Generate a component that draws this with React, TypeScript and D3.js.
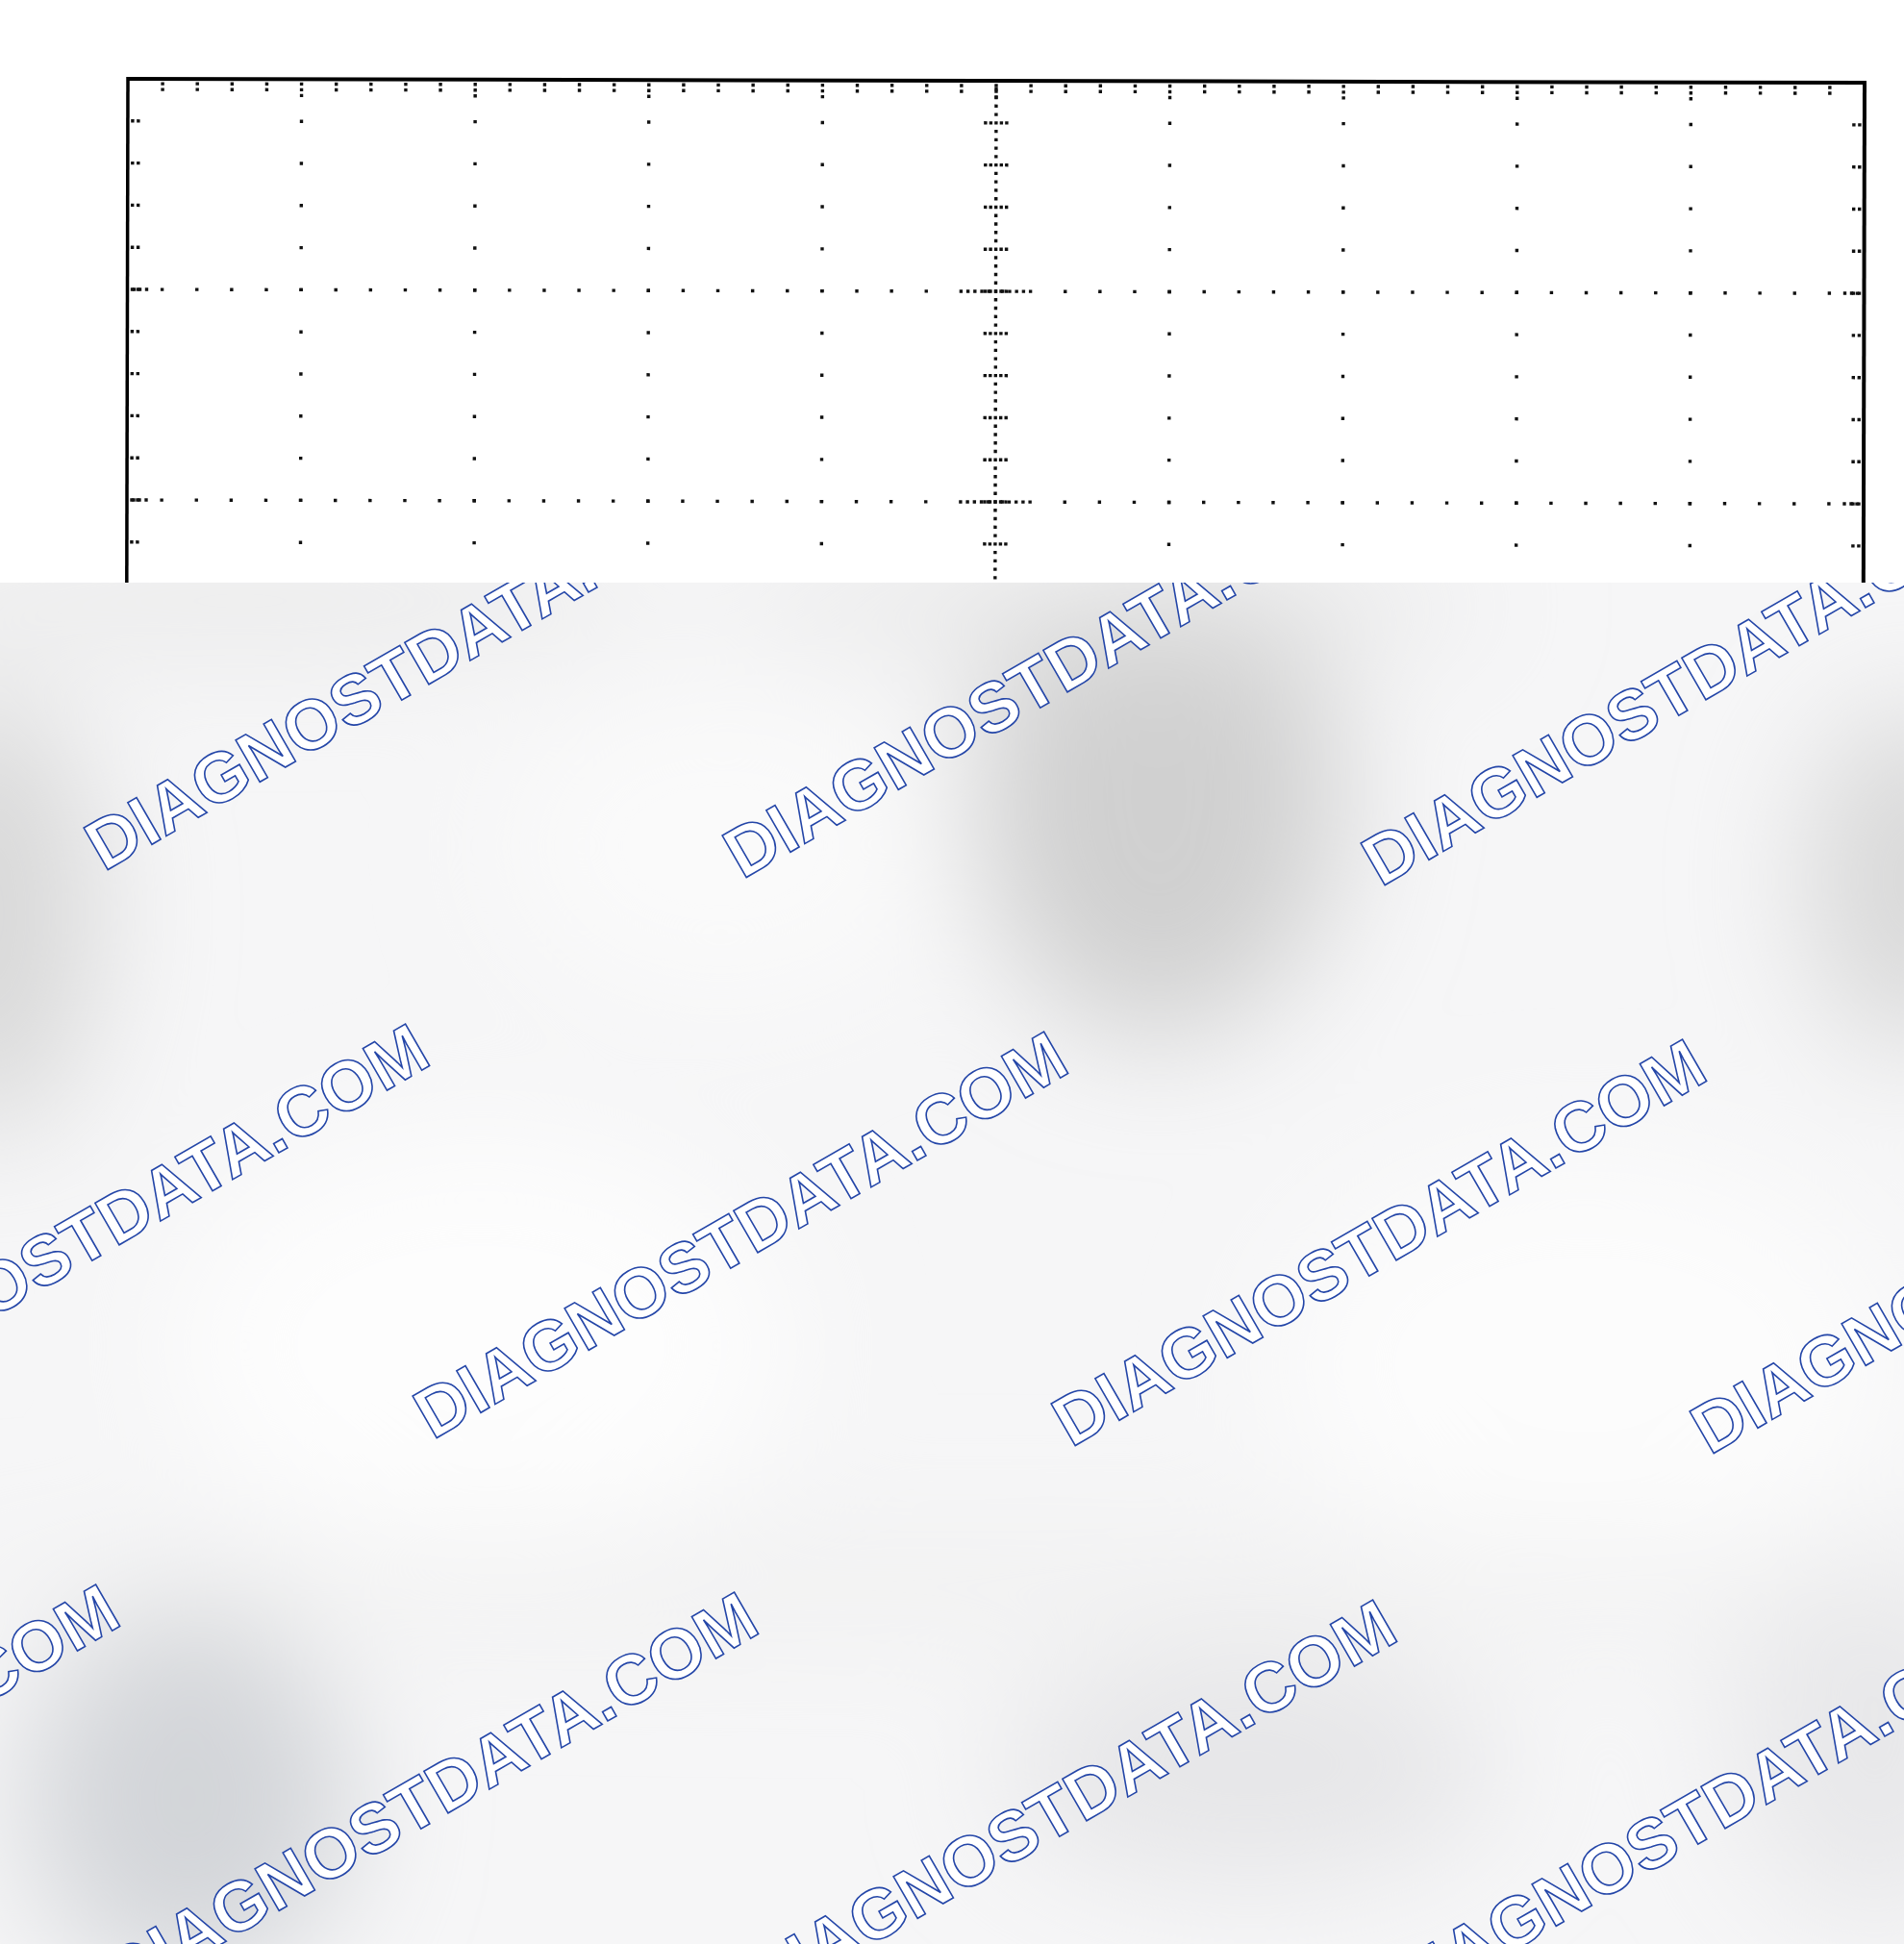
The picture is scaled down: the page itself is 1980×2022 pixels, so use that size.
import * as d3 from 'd3';

// screen grid: 10 x 8 divisions, 5 minor steps per division
const xDivisions = [0, 1, 2, 3, 4, 5, 6, 7, 8, 9, 10];
const yDivisions = [0, 1, 2, 3, 4, 5, 6, 7, 8];
const minorSteps = [0, 0.2, 0.4, 0.6, 0.8];
const fineSteps = [0, 0.04, 0.08, 0.12, 0.16];
const centerX = 5;
const centerY = 4;

// watermark lattice (column / row indices)
const markCols = [-2, -1, 0, 1, 2, 3];
const markRows = [-1, 0, 1, 2, 3];
const markText = 'DIAGNOSTDATA.COM';

const W = 1980;
const H = 2022;
const left = 133;
const right = 1939;
const top = 82;
const divH = 219;
const coverTop = 606;

const blobs = [
  { cx: 500, cy: 1400, rx: 320, ry: 220, c: '#fdfdfd' },
  { cx: 1650, cy: 1420, rx: 320, ry: 220, c: '#fcfcfc' },
  { cx: 750, cy: 880, rx: 220, ry: 160, c: '#fafafa' },
  { cx: -10, cy: 950, rx: 110, ry: 230, c: '#d8d8d8' },
  { cx: 1205, cy: 830, rx: 190, ry: 250, c: '#d0d0d0' },
  { cx: 1990, cy: 915, rx: 110, ry: 180, c: '#d8d8d8' },
  { cx: 195, cy: 1870, rx: 170, ry: 190, c: '#d3d5d9' },
  { cx: 1300, cy: 1840, rx: 260, ry: 120, c: '#e6e6e8' },
  { cx: 1950, cy: 1800, rx: 150, ry: 200, c: '#e8e8ea' },
  { cx: 250, cy: 625, rx: 450, ry: 45, c: '#e8e8e8' },
  { cx: 1150, cy: 630, rx: 400, ry: 40, c: '#e4e4e4' },
  { cx: 1000, cy: 1650, rx: 1100, ry: 45, c: '#f0f0f0' },
];

export default function App() {
  const x = d3.scaleLinear().domain([0, 10]).range([left, right]);
  const y = d3.scaleLinear().domain([0, 8]).range([top, top + 8 * divH]);

  const dots: [number, number][] = [];
  const addData = (dx: number, dy: number, ox = 0, oy = 0) => dots.push([x(dx) + ox, y(dy) + oy]);

  const yMinor: number[] = [];
  yDivisions.slice(0, -1).forEach((d) => minorSteps.forEach((s) => yMinor.push(d + s)));
  yMinor.push(8);
  const xMinor: number[] = [];
  xDivisions.slice(0, -1).forEach((d) => minorSteps.forEach((s) => xMinor.push(d + s)));
  xMinor.push(10);
  const yFine: number[] = [];
  yDivisions.slice(0, -1).forEach((d) => minorSteps.forEach((s) => fineSteps.forEach((f) => yFine.push(d + s + f))));
  const xFine: number[] = [];
  xDivisions.slice(0, -1).forEach((d) => minorSteps.forEach((s) => fineSteps.forEach((f) => xFine.push(d + s + f))));

  // dotted major verticals
  xDivisions.slice(1, -1).filter((d) => d !== centerX).forEach((d) => {
    yMinor.slice(1, -1).forEach((v) => addData(d, v));
  });
  // dotted major horizontals
  yDivisions.slice(1, -1).filter((d) => d !== centerY).forEach((d) => {
    xMinor.slice(1, -1).forEach((v) => addData(v, d));
    // denser near the centre line
    fineSteps.slice(1).forEach((f) => {
      addData(centerX - f, d);
      addData(centerX + f, d);
    });
    // denser near the borders
    [7, 13, 20].forEach((o) => {
      addData(0, d, o, 0);
      addData(10, d, -o, 0);
    });
  });
  // centre vertical with fine graduation and cross ticks
  yFine.slice(1).forEach((v) => addData(centerX, v));
  yMinor.slice(1, -1).forEach((v) => [-11, -5.5, 5.5, 11].forEach((o) => addData(centerX, v, o, 0)));
  // centre horizontal
  xFine.slice(1).forEach((v) => addData(v, centerY));
  xMinor.slice(1, -1).forEach((v) => [-11, -5.5, 5.5, 11].forEach((o) => addData(v, centerY, 0, o)));
  // border ticks
  xMinor.slice(1, -1).forEach((v) => {
    addData(v, 0, 0, 5);
    addData(v, 0, 0, 11);
  });
  xDivisions.slice(1, -1).forEach((v) => addData(v, 0, 0, 17));
  yMinor.slice(1, -1).forEach((v) => {
    addData(0, v, 5, 0);
    addData(0, v, 11, 0);
    addData(10, v, -5, 0);
    addData(10, v, -11, 0);
  });

  // watermark lattice
  const origin: [number, number] = [108, 907];
  const stepA: [number, number] = [664, 8];
  const stepB: [number, number] = [342, 591];
  const marks: [number, number][] = [];
  markRows.forEach((r) =>
    markCols.forEach((c) =>
      marks.push([origin[0] + c * stepA[0] + r * stepB[0], origin[1] + c * stepA[1] + r * stepB[1]])
    )
  );

  return (
    <svg width={W} height={H} style={{ position: 'absolute', left: 0, top: 0, background: '#fff' }}>
      <defs>
        <filter id="blur" x="-50%" y="-50%" width="200%" height="200%">
          <feGaussianBlur stdDeviation="65" />
        </filter>
        <clipPath id="cover">
          <rect x={0} y={coverTop} width={W} height={H - coverTop} />
        </clipPath>
      </defs>
      <rect width={W} height={H} fill="#fff" />
      <g transform={`rotate(0.13 ${left} ${top})`}>
        {dots.map(([px, py], i) => (
          <rect key={i} x={px - 1.7} y={py - 1.7} width={3.4} height={3.4} fill="#111" />
        ))}
        <line x1={x(0)} x2={x(10)} y1={y(0)} y2={y(0)} stroke="#000" strokeWidth={4} />
        <line x1={x(0)} x2={x(0)} y1={y(0) - 2} y2={y(8)} stroke="#000" strokeWidth={3.5} />
        <line x1={x(10)} x2={x(10)} y1={y(0) - 2} y2={y(8)} stroke="#000" strokeWidth={4} />
      </g>
      <g clipPath="url(#cover)">
        <rect x={0} y={coverTop} width={W} height={H - coverTop} fill="#f6f6f7" />
        <g filter="url(#blur)">
          {blobs.map((b, i) => (
            <ellipse key={i} cx={b.cx} cy={b.cy} rx={b.rx} ry={b.ry} fill={b.c} />
          ))}
        </g>
        {marks.map(([mx, my], i) => (
          <text
            key={i}
            x={mx}
            y={my}
            transform={`rotate(-30 ${mx} ${my})`}
            fontFamily="'Liberation Sans', Arial, sans-serif"
            fontWeight={700}
            fontSize={73}
            fill="#ffffff"
            stroke="#2446a8"
            strokeWidth={1.6}
          >
            {markText}
          </text>
        ))}
      </g>
    </svg>
  );
}
